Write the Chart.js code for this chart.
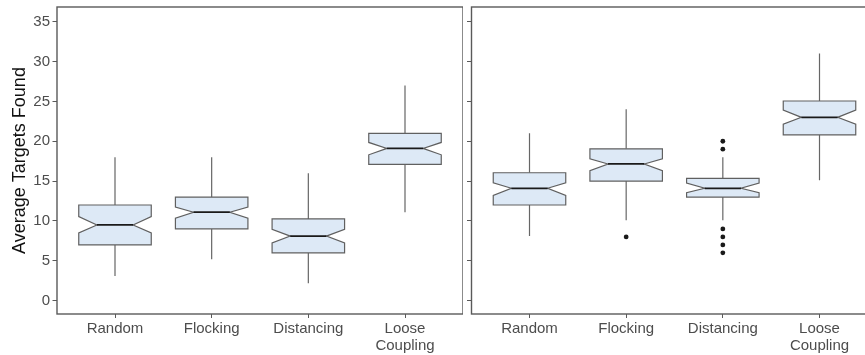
<!DOCTYPE html>
<html>
<head>
<meta charset="utf-8">
<script src="https://cdn.jsdelivr.net/npm/chart.js@4.4.1/dist/chart.umd.min.js"></script>
<style>
  html, body { margin: 0; padding: 0; background: #ffffff; overflow: hidden; }
  #wrap { position: relative; width: 865px; height: 355px; overflow: hidden; }
  #wrap canvas { position: absolute; top: 0; }
  #leftPanel { left: 0; }
  #rightPanel { left: 462px; }
</style>
</head>
<body>
<div id="wrap">
  <canvas id="leftPanel" width="463" height="355"></canvas>
  <canvas id="rightPanel" width="440" height="355"></canvas>
</div>
<script>
// Strategies compared in both panels
const categories = ['Random', 'Flocking', 'Distancing', 'Loose Coupling'];
const yTicks = [0, 5, 10, 15, 20, 25, 30, 35];

// Left panel: five-number summaries and notch limits
const leftWhiskerLow  = [3.1, 5.2, 2.2, 11.1];
const leftQ1          = [7, 9, 6, 17.1];
const leftMedian      = [9.5, 11.1, 8.1, 19.1];
const leftQ3          = [12, 13, 10.25, 21];
const leftWhiskerHigh = [18, 18, 16, 27];
const leftNotchLow    = [8.5, 10.35, 7.25, 18.3];
const leftNotchHigh   = [10.55, 11.75, 8.95, 19.85];
const leftOutliers    = [[], [], [], []];

// Right panel: five-number summaries, notch limits and outliers
const rightWhiskerLow  = [8.1, 10.1, 10.1, 15.1];
const rightQ1          = [12, 15, 13, 20.8];
const rightMedian      = [14.1, 17.15, 14.1, 23];
const rightQ3          = [16.05, 19.05, 15.35, 25.05];
const rightWhiskerHigh = [21, 24, 18, 31];
const rightNotchLow    = [13.2, 16.3, 13.55, 22.15];
const rightNotchHigh   = [14.8, 17.8, 14.75, 23.9];
const rightOutliers    = [[], [8], [20, 19, 9, 8, 7, 6], []];

const FONT = "'Liberation Sans', Arial, Helvetica, sans-serif";
const BOX_HALF = 0.375;     // half box width in category units
const NOTCH_RATIO = 0.5;    // width at the median relative to the box

function panel(low, q1, med, q3, high, nLow, nHigh, outliers) {
  return { low, q1, med, q3, high, nLow, nHigh, outliers };
}

// Draws notched boxes and whiskers through the chart's own scales
function notchedBoxPlugin(p) {
  return {
    id: 'notchedBoxes',
    beforeDatasetsDraw(chart) {
      const { ctx, chartArea, scales: { x, y } } = chart;
      ctx.save();
      ctx.beginPath();
      ctx.rect(chartArea.left, chartArea.top, chartArea.width, chartArea.height);
      ctx.clip();
      p.med.forEach((m, i) => {
        const cx = x.getPixelForValue(i + 1);
        const hw = x.getPixelForValue(i + 1 + BOX_HALF) - cx;
        const nw = hw * NOTCH_RATIO;
        const yLow = y.getPixelForValue(p.low[i]);
        const yQ1 = y.getPixelForValue(p.q1[i]);
        const yMed = y.getPixelForValue(m);
        const yQ3 = y.getPixelForValue(p.q3[i]);
        const yHigh = y.getPixelForValue(p.high[i]);
        const yNL = y.getPixelForValue(p.nLow[i]);
        const yNH = y.getPixelForValue(p.nHigh[i]);

        // whiskers
        ctx.strokeStyle = '#666666';
        ctx.lineWidth = 1.2;
        ctx.beginPath();
        ctx.moveTo(cx, yQ3); ctx.lineTo(cx, yHigh);
        ctx.moveTo(cx, yQ1); ctx.lineTo(cx, yLow);
        ctx.stroke();

        // notched box outline
        ctx.beginPath();
        ctx.moveTo(cx - hw, yQ3);
        ctx.lineTo(cx + hw, yQ3);
        ctx.lineTo(cx + hw, yNH);
        ctx.lineTo(cx + nw, yMed);
        ctx.lineTo(cx + hw, yNL);
        ctx.lineTo(cx + hw, yQ1);
        ctx.lineTo(cx - hw, yQ1);
        ctx.lineTo(cx - hw, yNL);
        ctx.lineTo(cx - nw, yMed);
        ctx.lineTo(cx - hw, yNH);
        ctx.closePath();
        ctx.fillStyle = '#dde9f6';
        ctx.fill();
        ctx.strokeStyle = '#606060';
        ctx.lineWidth = 1.2;
        ctx.lineJoin = 'miter';
        ctx.stroke();

        // median
        ctx.strokeStyle = '#1a1a1a';
        ctx.lineWidth = 1.7;
        ctx.beginPath();
        ctx.moveTo(cx - nw, yMed);
        ctx.lineTo(cx + nw, yMed);
        ctx.stroke();
      });
      ctx.restore();
    },
    afterDraw(chart) {
      const { ctx, chartArea } = chart;
      ctx.save();
      ctx.strokeStyle = '#5a5a5a';
      ctx.lineWidth = 1.4;
      ctx.strokeRect(chartArea.left, chartArea.top, chartArea.width, chartArea.height);
      ctx.restore();
    }
  };
}

function makeChart(canvasId, p, showYLabels, yWidth, padRight) {
  const points = [];
  p.outliers.forEach((list, i) => list.forEach(v => points.push({ x: i + 1, y: v })));
  return new Chart(document.getElementById(canvasId), {
    type: 'scatter',
    data: {
      datasets: [{
        data: points,
        pointRadius: 2.4,
        pointHoverRadius: 2.4,
        pointBackgroundColor: '#1a1a1a',
        pointBorderColor: '#1a1a1a',
        pointBorderWidth: 0
      }]
    },
    options: {
      responsive: false,
      animation: false,
      devicePixelRatio: 1,
      layout: { padding: { left: 0, top: 7, right: padRight, bottom: 0 } },
      plugins: { legend: { display: false }, tooltip: { enabled: false } },
      scales: {
        x: {
          type: 'linear',
          min: 0.4,
          max: 4.6,
          afterBuildTicks: s => { s.ticks = categories.map((c, i) => ({ value: i + 1 })); },
          afterFit: s => { s.height = 41; s.paddingLeft = 0; s.paddingRight = 0; },
          ticks: {
            autoSkip: false,
            maxRotation: 0,
            padding: 3,
            color: '#4d4d4d',
            font: { family: FONT, size: 15, lineHeight: 1.1 },
            callback: v => categories[Math.round(v) - 1].split(' ')
          },
          grid: { drawOnChartArea: false, drawTicks: true, tickLength: 4, color: '#5a5a5a', lineWidth: 1 },
          border: { display: false }
        },
        y: {
          type: 'linear',
          min: -1.67,
          max: 36.84,
          afterBuildTicks: s => { s.ticks = yTicks.map(v => ({ value: v })); },
          afterFit: s => { s.width = yWidth; s.paddingTop = 0; s.paddingBottom = 0; },
          ticks: {
            display: showYLabels,
            padding: 2.5,
            color: '#4d4d4d',
            font: { family: FONT, size: 15 }
          },
          title: {
            display: showYLabels,
            text: 'Average Targets Found',
            color: '#111111',
            font: { family: FONT, size: 18 },
            padding: { top: 9, bottom: 0 }
          },
          grid: { drawOnChartArea: false, drawTicks: true, tickLength: 4.5, color: '#5a5a5a', lineWidth: 1 },
          border: { display: false }
        }
      }
    },
    plugins: [notchedBoxPlugin(p)]
  });
}

makeChart('leftPanel',
  panel(leftWhiskerLow, leftQ1, leftMedian, leftQ3, leftWhiskerHigh, leftNotchLow, leftNotchHigh, leftOutliers),
  true, 57, 0);
makeChart('rightPanel',
  panel(rightWhiskerLow, rightQ1, rightMedian, rightQ3, rightWhiskerHigh, rightNotchLow, rightNotchHigh, rightOutliers),
  false, 9.5, 24.5);
</script>
</body>
</html>
